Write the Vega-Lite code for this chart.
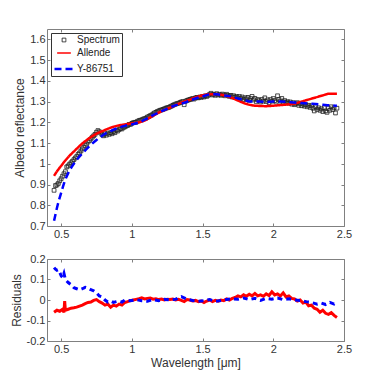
{
  "$schema": "https://vega.github.io/schema/vega-lite/v6.json",
  "padding": {"left": 10, "top": 28, "right": 5, "bottom": 5},
  "spacing": 14,
  "config": {
    "font": "Liberation Sans",
    "view": {"stroke": null},
    "axis": {
      "grid": false,
      "domainColor": "#808080",
      "domainWidth": 1,
      "tickColor": "#808080",
      "tickSize": -3,
      "labelPadding": 5,
      "labelFontSize": 11,
      "labelColor": "#333333",
      "titleFontSize": 12,
      "titleFontWeight": "normal",
      "titleColor": "#333333",
      "titlePadding": 3,
      "labelFlush": false
    },
    "legend": {
      "title": null, "orient": "top-left", "offset": 4, "strokeColor": "#333333", "fillColor": "white",
      "padding": 2, "rowPadding": 0, "labelFontSize": 10, "labelColor": "#222222", "labelOffset": 2
    }
  },
  "datasets": {
    "spec": [
      {"wl":0.45,"refl":0.872},{"wl":0.46,"refl":0.895},{"wl":0.47,"refl":0.898},{"wl":0.48,"refl":0.905},{"wl":0.49,"refl":0.918},
      {"wl":0.50,"refl":0.928},{"wl":0.51,"refl":0.94},{"wl":0.52,"refl":0.952},{"wl":0.53,"refl":0.962},{"wl":0.54,"refl":0.985},
      {"wl":0.55,"refl":0.99},{"wl":0.56,"refl":0.998},{"wl":0.57,"refl":1.005},{"wl":0.58,"refl":1.012},{"wl":0.59,"refl":1.02},
      {"wl":0.60,"refl":1.028},{"wl":0.61,"refl":1.035},{"wl":0.62,"refl":1.045},{"wl":0.63,"refl":1.052},{"wl":0.64,"refl":1.062},
      {"wl":0.65,"refl":1.072},{"wl":0.66,"refl":1.08},{"wl":0.67,"refl":1.088},{"wl":0.68,"refl":1.095},{"wl":0.69,"refl":1.105},
      {"wl":0.70,"refl":1.112},{"wl":0.71,"refl":1.12},{"wl":0.72,"refl":1.128},{"wl":0.73,"refl":1.135},{"wl":0.74,"refl":1.142},
      {"wl":0.75,"refl":1.152},{"wl":0.76,"refl":1.16},{"wl":0.77,"refl":1.155},{"wl":0.78,"refl":1.148},{"wl":0.79,"refl":1.14},
      {"wl":0.80,"refl":1.135},{"wl":0.81,"refl":1.145},{"wl":0.82,"refl":1.138},{"wl":0.83,"refl":1.148},{"wl":0.84,"refl":1.142},
      {"wl":0.85,"refl":1.15},{"wl":0.86,"refl":1.145},{"wl":0.87,"refl":1.155},{"wl":0.88,"refl":1.15},{"wl":0.89,"refl":1.162},
      {"wl":0.90,"refl":1.158},{"wl":0.91,"refl":1.165},{"wl":0.92,"refl":1.17},{"wl":0.93,"refl":1.168},{"wl":0.94,"refl":1.175},
      {"wl":0.95,"refl":1.178},{"wl":0.96,"refl":1.182},{"wl":0.97,"refl":1.185},{"wl":0.98,"refl":1.19},{"wl":0.99,"refl":1.19},
      {"wl":1.00,"refl":1.195},{"wl":1.01,"refl":1.198},{"wl":1.02,"refl":1.2},{"wl":1.03,"refl":1.2},{"wl":1.04,"refl":1.205},
      {"wl":1.05,"refl":1.208},{"wl":1.06,"refl":1.21},{"wl":1.07,"refl":1.212},{"wl":1.08,"refl":1.215},{"wl":1.09,"refl":1.218},
      {"wl":1.10,"refl":1.22},{"wl":1.11,"refl":1.225},{"wl":1.12,"refl":1.228},{"wl":1.13,"refl":1.232},{"wl":1.14,"refl":1.235},
      {"wl":1.15,"refl":1.24},{"wl":1.16,"refl":1.245},{"wl":1.17,"refl":1.248},{"wl":1.18,"refl":1.252},{"wl":1.19,"refl":1.255},
      {"wl":1.20,"refl":1.258},{"wl":1.21,"refl":1.26},{"wl":1.22,"refl":1.262},{"wl":1.23,"refl":1.265},{"wl":1.24,"refl":1.268},
      {"wl":1.25,"refl":1.27},{"wl":1.26,"refl":1.272},{"wl":1.27,"refl":1.275},{"wl":1.28,"refl":1.278},{"wl":1.29,"refl":1.282},
      {"wl":1.30,"refl":1.285},{"wl":1.31,"refl":1.288},{"wl":1.32,"refl":1.29},{"wl":1.33,"refl":1.292},{"wl":1.34,"refl":1.295},
      {"wl":1.35,"refl":1.298},{"wl":1.36,"refl":1.3},{"wl":1.37,"refl":1.285},{"wl":1.38,"refl":1.302},{"wl":1.39,"refl":1.305},
      {"wl":1.40,"refl":1.308},{"wl":1.41,"refl":1.31},{"wl":1.42,"refl":1.312},{"wl":1.43,"refl":1.315},{"wl":1.44,"refl":1.312},
      {"wl":1.45,"refl":1.318},{"wl":1.46,"refl":1.32},{"wl":1.47,"refl":1.318},{"wl":1.48,"refl":1.322},{"wl":1.49,"refl":1.32},
      {"wl":1.50,"refl":1.325},{"wl":1.51,"refl":1.322},{"wl":1.52,"refl":1.328},{"wl":1.53,"refl":1.325},{"wl":1.54,"refl":1.33},
      {"wl":1.55,"refl":1.335},{"wl":1.56,"refl":1.34},{"wl":1.57,"refl":1.332},{"wl":1.58,"refl":1.335},{"wl":1.59,"refl":1.33},
      {"wl":1.60,"refl":1.338},{"wl":1.61,"refl":1.332},{"wl":1.62,"refl":1.335},{"wl":1.63,"refl":1.33},{"wl":1.64,"refl":1.336},
      {"wl":1.65,"refl":1.332},{"wl":1.66,"refl":1.328},{"wl":1.67,"refl":1.335},{"wl":1.68,"refl":1.33},{"wl":1.69,"refl":1.325},
      {"wl":1.70,"refl":1.33},{"wl":1.71,"refl":1.322},{"wl":1.72,"refl":1.328},{"wl":1.73,"refl":1.32},{"wl":1.74,"refl":1.325},
      {"wl":1.75,"refl":1.318},{"wl":1.76,"refl":1.325},{"wl":1.77,"refl":1.315},{"wl":1.78,"refl":1.322},{"wl":1.79,"refl":1.31},
      {"wl":1.80,"refl":1.318},{"wl":1.81,"refl":1.312},{"wl":1.82,"refl":1.32},{"wl":1.83,"refl":1.305},{"wl":1.84,"refl":1.315},
      {"wl":1.85,"refl":1.325},{"wl":1.86,"refl":1.308},{"wl":1.87,"refl":1.315},{"wl":1.88,"refl":1.3},{"wl":1.89,"refl":1.31},
      {"wl":1.90,"refl":1.305},{"wl":1.91,"refl":1.298},{"wl":1.92,"refl":1.31},{"wl":1.93,"refl":1.302},{"wl":1.94,"refl":1.318},
      {"wl":1.95,"refl":1.3},{"wl":1.96,"refl":1.308},{"wl":1.97,"refl":1.295},{"wl":1.98,"refl":1.31},{"wl":1.99,"refl":1.302},
      {"wl":2.00,"refl":1.315},{"wl":2.01,"refl":1.305},{"wl":2.02,"refl":1.298},{"wl":2.03,"refl":1.328},{"wl":2.04,"refl":1.31},
      {"wl":2.05,"refl":1.302},{"wl":2.06,"refl":1.315},{"wl":2.07,"refl":1.298},{"wl":2.08,"refl":1.305},{"wl":2.09,"refl":1.295},
      {"wl":2.10,"refl":1.3},{"wl":2.11,"refl":1.292},{"wl":2.12,"refl":1.298},{"wl":2.13,"refl":1.288},{"wl":2.14,"refl":1.295},
      {"wl":2.15,"refl":1.285},{"wl":2.16,"refl":1.29},{"wl":2.17,"refl":1.295},{"wl":2.18,"refl":1.282},{"wl":2.19,"refl":1.29},
      {"wl":2.20,"refl":1.28},{"wl":2.21,"refl":1.288},{"wl":2.22,"refl":1.278},{"wl":2.23,"refl":1.285},{"wl":2.24,"refl":1.275},
      {"wl":2.25,"refl":1.282},{"wl":2.26,"refl":1.272},{"wl":2.27,"refl":1.28},{"wl":2.28,"refl":1.268},{"wl":2.29,"refl":1.255},
      {"wl":2.30,"refl":1.275},{"wl":2.31,"refl":1.262},{"wl":2.32,"refl":1.27},{"wl":2.33,"refl":1.258},{"wl":2.34,"refl":1.265},
      {"wl":2.35,"refl":1.252},{"wl":2.36,"refl":1.27},{"wl":2.37,"refl":1.255},{"wl":2.38,"refl":1.248},{"wl":2.39,"refl":1.268},
      {"wl":2.40,"refl":1.258},{"wl":2.41,"refl":1.275},{"wl":2.42,"refl":1.262},{"wl":2.43,"refl":1.27},{"wl":2.44,"refl":1.245},
      {"wl":2.45,"refl":1.268}
    ],
    "allende": [
      {"wl":0.45,"refl":0.942},{"wl":0.475,"refl":0.968},{"wl":0.50,"refl":0.99},{"wl":0.525,"refl":1.012},{"wl":0.55,"refl":1.032},
      {"wl":0.60,"refl":1.066},{"wl":0.65,"refl":1.098},{"wl":0.70,"refl":1.124},{"wl":0.75,"refl":1.145},{"wl":0.80,"refl":1.16},
      {"wl":0.85,"refl":1.174},{"wl":0.90,"refl":1.184},{"wl":0.95,"refl":1.19},{"wl":1.00,"refl":1.195},{"wl":1.05,"refl":1.2},
      {"wl":1.10,"refl":1.212},{"wl":1.15,"refl":1.232},{"wl":1.20,"refl":1.25},{"wl":1.25,"refl":1.265},{"wl":1.30,"refl":1.28},
      {"wl":1.35,"refl":1.295},{"wl":1.40,"refl":1.307},{"wl":1.45,"refl":1.32},{"wl":1.50,"refl":1.33},{"wl":1.55,"refl":1.335},
      {"wl":1.60,"refl":1.336},{"wl":1.65,"refl":1.33},{"wl":1.70,"refl":1.32},{"wl":1.75,"refl":1.305},{"wl":1.80,"refl":1.291},
      {"wl":1.85,"refl":1.282},{"wl":1.90,"refl":1.279},{"wl":1.95,"refl":1.278},{"wl":2.00,"refl":1.28},{"wl":2.05,"refl":1.283},
      {"wl":2.10,"refl":1.286},{"wl":2.15,"refl":1.29},{"wl":2.20,"refl":1.3},{"wl":2.25,"refl":1.31},{"wl":2.30,"refl":1.32},
      {"wl":2.35,"refl":1.33},{"wl":2.40,"refl":1.338},{"wl":2.45,"refl":1.338}
    ],
    "y86751": [
      {"wl":0.45,"refl":0.725},{"wl":0.475,"refl":0.8},{"wl":0.50,"refl":0.86},{"wl":0.525,"refl":0.915},{"wl":0.55,"refl":0.955},
      {"wl":0.575,"refl":0.985},{"wl":0.60,"refl":1.01},{"wl":0.65,"refl":1.05},{"wl":0.70,"refl":1.085},{"wl":0.75,"refl":1.115},
      {"wl":0.80,"refl":1.14},{"wl":0.85,"refl":1.158},{"wl":0.90,"refl":1.172},{"wl":0.95,"refl":1.183},{"wl":1.00,"refl":1.19},
      {"wl":1.05,"refl":1.2},{"wl":1.10,"refl":1.215},{"wl":1.15,"refl":1.235},{"wl":1.20,"refl":1.25},{"wl":1.25,"refl":1.265},
      {"wl":1.30,"refl":1.28},{"wl":1.35,"refl":1.29},{"wl":1.40,"refl":1.302},{"wl":1.45,"refl":1.315},{"wl":1.50,"refl":1.325},
      {"wl":1.55,"refl":1.334},{"wl":1.60,"refl":1.335},{"wl":1.65,"refl":1.33},{"wl":1.70,"refl":1.325},{"wl":1.75,"refl":1.315},
      {"wl":1.80,"refl":1.306},{"wl":1.85,"refl":1.3},{"wl":1.90,"refl":1.3},{"wl":1.95,"refl":1.298},{"wl":2.00,"refl":1.3},
      {"wl":2.05,"refl":1.3},{"wl":2.10,"refl":1.298},{"wl":2.15,"refl":1.295},{"wl":2.20,"refl":1.293},{"wl":2.25,"refl":1.29},
      {"wl":2.30,"refl":1.288},{"wl":2.35,"refl":1.285},{"wl":2.40,"refl":1.282},{"wl":2.45,"refl":1.28}
    ],
    "resA": [
      {"wl":0.45,"res":-0.06},{"wl":0.47,"res":-0.05},{"wl":0.49,"res":-0.055},{"wl":0.51,"res":-0.045},{"wl":0.52,"res":-0.06},
      {"wl":0.525,"res":-0.005},{"wl":0.53,"res":-0.05},{"wl":0.55,"res":-0.045},{"wl":0.57,"res":-0.04},{"wl":0.59,"res":-0.038},
      {"wl":0.61,"res":-0.035},{"wl":0.63,"res":-0.03},{"wl":0.65,"res":-0.025},{"wl":0.67,"res":-0.018},{"wl":0.69,"res":-0.012},
      {"wl":0.71,"res":-0.01},{"wl":0.73,"res":-0.002},{"wl":0.75,"res":0.002},{"wl":0.77,"res":-0.008},{"wl":0.79,"res":-0.015},
      {"wl":0.81,"res":-0.025},{"wl":0.83,"res":-0.02},{"wl":0.85,"res":-0.035},{"wl":0.87,"res":-0.025},{"wl":0.89,"res":-0.03},
      {"wl":0.91,"res":-0.02},{"wl":0.93,"res":-0.025},{"wl":0.95,"res":-0.012},{"wl":0.97,"res":-0.008},{"wl":0.99,"res":-0.003},
      {"wl":1.01,"res":0.0},{"wl":1.03,"res":0.003},{"wl":1.05,"res":0.006},{"wl":1.07,"res":0.01},{"wl":1.09,"res":0.005},
      {"wl":1.11,"res":0.008},{"wl":1.13,"res":0.01},{"wl":1.15,"res":0.004},{"wl":1.17,"res":0.006},{"wl":1.19,"res":0.002},
      {"wl":1.21,"res":0.005},{"wl":1.23,"res":0.0},{"wl":1.25,"res":0.004},{"wl":1.27,"res":0.002},{"wl":1.29,"res":0.005},
      {"wl":1.31,"res":0.0},{"wl":1.33,"res":0.003},{"wl":1.35,"res":-0.002},{"wl":1.37,"res":-0.008},{"wl":1.39,"res":0.002},
      {"wl":1.41,"res":0.0},{"wl":1.43,"res":-0.005},{"wl":1.45,"res":-0.002},{"wl":1.47,"res":-0.008},{"wl":1.49,"res":-0.005},
      {"wl":1.51,"res":-0.012},{"wl":1.53,"res":-0.005},{"wl":1.55,"res":0.0},{"wl":1.57,"res":-0.008},{"wl":1.59,"res":-0.002},
      {"wl":1.61,"res":-0.006},{"wl":1.63,"res":0.0},{"wl":1.65,"res":-0.003},{"wl":1.67,"res":0.005},{"wl":1.69,"res":0.0},
      {"wl":1.71,"res":0.008},{"wl":1.73,"res":0.012},{"wl":1.75,"res":0.02},{"wl":1.77,"res":0.015},{"wl":1.79,"res":0.025},
      {"wl":1.81,"res":0.018},{"wl":1.83,"res":0.028},{"wl":1.85,"res":0.02},{"wl":1.87,"res":0.032},{"wl":1.89,"res":0.02},
      {"wl":1.91,"res":0.025},{"wl":1.93,"res":0.018},{"wl":1.95,"res":0.03},{"wl":1.97,"res":0.022},{"wl":1.99,"res":0.04},
      {"wl":2.01,"res":0.025},{"wl":2.03,"res":0.03},{"wl":2.05,"res":0.02},{"wl":2.07,"res":0.035},{"wl":2.09,"res":0.015},
      {"wl":2.11,"res":0.02},{"wl":2.13,"res":0.008},{"wl":2.15,"res":0.005},{"wl":2.17,"res":-0.005},{"wl":2.19,"res":0.0},
      {"wl":2.21,"res":-0.015},{"wl":2.23,"res":-0.01},{"wl":2.25,"res":-0.028},{"wl":2.27,"res":-0.025},{"wl":2.29,"res":-0.04},
      {"wl":2.31,"res":-0.045},{"wl":2.33,"res":-0.06},{"wl":2.35,"res":-0.05},{"wl":2.37,"res":-0.065},{"wl":2.39,"res":-0.07},
      {"wl":2.41,"res":-0.062},{"wl":2.43,"res":-0.075},{"wl":2.45,"res":-0.085}
    ],
    "resY": [
      {"wl":0.45,"res":0.158},{"wl":0.46,"res":0.15},{"wl":0.47,"res":0.145},{"wl":0.48,"res":0.148},{"wl":0.49,"res":0.135},
      {"wl":0.50,"res":0.118},{"wl":0.51,"res":0.11},{"wl":0.52,"res":0.13},{"wl":0.53,"res":0.1},{"wl":0.55,"res":0.085},
      {"wl":0.57,"res":0.075},{"wl":0.59,"res":0.06},{"wl":0.61,"res":0.055},{"wl":0.63,"res":0.05},{"wl":0.65,"res":0.055},
      {"wl":0.67,"res":0.062},{"wl":0.69,"res":0.058},{"wl":0.71,"res":0.05},{"wl":0.73,"res":0.045},{"wl":0.75,"res":0.035},
      {"wl":0.77,"res":0.02},{"wl":0.79,"res":0.015},{"wl":0.81,"res":0.0},{"wl":0.83,"res":-0.01},{"wl":0.85,"res":-0.005},
      {"wl":0.87,"res":-0.012},{"wl":0.89,"res":-0.008},{"wl":0.91,"res":-0.005},{"wl":0.93,"res":-0.01},{"wl":0.95,"res":0.0},
      {"wl":0.99,"res":-0.004},{"wl":1.03,"res":0.002},{"wl":1.07,"res":-0.004},{"wl":1.11,"res":-0.006},{"wl":1.15,"res":0.002},
      {"wl":1.19,"res":-0.003},{"wl":1.23,"res":0.003},{"wl":1.27,"res":0.0},{"wl":1.31,"res":0.004},{"wl":1.35,"res":0.016},
      {"wl":1.39,"res":0.004},{"wl":1.43,"res":-0.002},{"wl":1.47,"res":-0.006},{"wl":1.51,"res":-0.004},{"wl":1.55,"res":0.002},
      {"wl":1.59,"res":-0.006},{"wl":1.63,"res":-0.003},{"wl":1.67,"res":0.003},{"wl":1.71,"res":0.006},{"wl":1.75,"res":0.004},
      {"wl":1.79,"res":0.01},{"wl":1.83,"res":0.002},{"wl":1.87,"res":0.008},{"wl":1.91,"res":-0.002},{"wl":1.95,"res":0.008},
      {"wl":1.99,"res":0.004},{"wl":2.03,"res":0.01},{"wl":2.07,"res":0.002},{"wl":2.11,"res":0.006},{"wl":2.15,"res":0.0},
      {"wl":2.19,"res":-0.002},{"wl":2.23,"res":-0.008},{"wl":2.27,"res":-0.012},{"wl":2.31,"res":-0.02},{"wl":2.34,"res":-0.015},
      {"wl":2.37,"res":-0.022},{"wl":2.40,"res":-0.012},{"wl":2.43,"res":-0.02},{"wl":2.45,"res":-0.01}
    ]
  },
  "vconcat": [
    {
      "width": 297,
      "height": 197,
      "layer": [
        {
          "data": {"name": "spec"},
          "transform": [{"calculate": "'Spectrum'", "as": "series"}],
          "mark": {"type": "point", "shape": "square", "filled": false, "opacity": 1},
          "encoding": {
            "x": {"field": "wl", "type": "quantitative", "scale": {"domain": [0.4, 2.5], "nice": false, "zero": false},
                  "axis": {"title": null, "values": [0.5, 1, 1.5, 2, 2.5], "labelExpr": "'' + datum.value"}},
            "y": {"field": "refl", "type": "quantitative", "scale": {"domain": [0.7, 1.65], "nice": false, "zero": false},
                  "axis": {"title": "Albedo reflectance", "values": [0.7,0.8,0.9,1,1.1,1.2,1.3,1.4,1.5,1.6], "labelExpr": "'' + datum.value"}},
            "color": {"field": "series", "type": "nominal",
                      "scale": {"domain": ["Spectrum", "Allende", "Y-86751"], "range": ["#222222", "#ff0000", "#0000ff"]}},
            "shape": {"field": "series", "type": "nominal",
                      "scale": {"domain": ["Spectrum", "Allende", "Y-86751"], "range": ["square", "stroke", "stroke"]}},
            "size": {"field": "series", "type": "nominal",
                      "scale": {"domain": ["Spectrum", "Allende", "Y-86751"], "range": [14, 361, 361]}},
            "strokeWidth": {"field": "series", "type": "nominal",
                      "scale": {"domain": ["Spectrum", "Allende", "Y-86751"], "range": [0.9, 2.5, 2.5]}},
            "strokeDash": {"field": "series", "type": "nominal",
                      "scale": {"domain": ["Spectrum", "Allende", "Y-86751"], "range": [[1, 0], [1, 0], [7, 4]]}}
          }
        },
        {
          "data": {"name": "allende"},
          "transform": [{"calculate": "'Allende'", "as": "series"}],
          "mark": {"type": "line", "strokeWidth": 2.5, "interpolate": "monotone"},
          "encoding": {
            "x": {"field": "wl", "type": "quantitative", "axis": null},
            "y": {"field": "refl", "type": "quantitative", "axis": null},
            "color": {"field": "series", "type": "nominal"},
            "strokeDash": {"field": "series", "type": "nominal"}
          }
        },
        {
          "data": {"name": "y86751"},
          "transform": [{"calculate": "'Y-86751'", "as": "series"}],
          "mark": {"type": "line", "strokeWidth": 2.5, "interpolate": "monotone"},
          "encoding": {
            "x": {"field": "wl", "type": "quantitative", "axis": {"orient": "top", "labels": false, "title": null, "values": [0.5, 1, 1.5, 2, 2.5]}},
            "y": {"field": "refl", "type": "quantitative", "axis": {"orient": "right", "labels": false, "title": null, "values": [0.7,0.8,0.9,1,1.1,1.2,1.3,1.4,1.5,1.6]}},
            "color": {"field": "series", "type": "nominal"},
            "strokeDash": {"field": "series", "type": "nominal"}
          }
        }
      ],
      "resolve": {"axis": {"x": "independent", "y": "independent"}}
    },
    {
      "width": 297,
      "height": 82,
      "layer": [
        {
          "mark": {"type": "rule", "color": "#111111", "strokeWidth": 1.5},
          "encoding": {
            "y": {"datum": 0, "type": "quantitative", "scale": {"domain": [-0.2, 0.2], "nice": false}, 
                  "axis": {"title": "Residuals", "values": [-0.2, -0.1, 0, 0.1, 0.2], "labelExpr": "'' + datum.value"}}
          }
        },
        {
          "data": {"name": "resA"},
          "mark": {"type": "line", "color": "#ff0000", "strokeWidth": 3},
          "encoding": {
            "x": {"field": "wl", "type": "quantitative", "scale": {"domain": [0.4, 2.5], "nice": false, "zero": false},
                  "axis": {"title": "Wavelength [μm]", "values": [0.5, 1, 1.5, 2, 2.5], "labelExpr": "'' + datum.value"}},
            "y": {"field": "res", "type": "quantitative", "axis": null}
          }
        },
        {
          "data": {"name": "resY"},
          "mark": {"type": "line", "color": "#0000ff", "strokeWidth": 3, "strokeDash": [5, 4]},
          "encoding": {
            "x": {"field": "wl", "type": "quantitative", "axis": {"orient": "top", "labels": false, "title": null, "values": [0.5, 1, 1.5, 2, 2.5]}},
            "y": {"field": "res", "type": "quantitative", "axis": {"orient": "right", "labels": false, "title": null, "values": [-0.2, -0.1, 0, 0.1, 0.2]}}
          }
        }
      ],
      "resolve": {"axis": {"x": "independent", "y": "independent"}}
    }
  ]
}
